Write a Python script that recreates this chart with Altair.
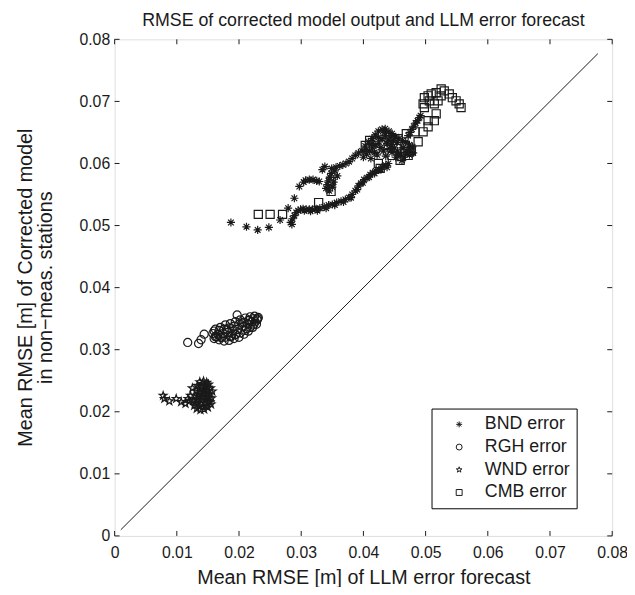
import altair as alt
import pandas as pd

SERIES = ["BND error", "RGH error", "WND error", "CMB error"]
TICKS = [0, 0.01, 0.02, 0.03, 0.04, 0.05, 0.06, 0.07, 0.08]
LINE_X = [0.001, 0.0777]
LINE_Y = [0.001, 0.0777]

BND_X = [0.0187, 0.0212, 0.0230, 0.0248, 0.0266, 0.0279, 0.0283, 0.0286, 0.0289, 0.0292, 0.0285, 0.0295, 0.0299,
         0.0303, 0.0308, 0.0313, 0.0318, 0.0324, 0.0330, 0.0337, 0.0344, 0.0350, 0.0357, 0.0364, 0.0371, 0.0377,
         0.0382, 0.0387, 0.0392, 0.0396, 0.0401, 0.0406, 0.0411, 0.0415, 0.0420, 0.0425, 0.0430, 0.0436, 0.0440,
         0.0289, 0.0297, 0.0304, 0.0307, 0.0313, 0.0319, 0.0325, 0.0329, 0.0334, 0.0338,
         0.0340, 0.0342, 0.0344, 0.0346, 0.0348, 0.0350, 0.0352, 0.0354, 0.0356, 0.0345, 0.0349, 0.0358,
         0.0362, 0.0367, 0.0372, 0.0377, 0.0382, 0.0387, 0.0392, 0.0398, 0.0403, 0.0408, 0.0414, 0.0419,
         0.0424, 0.0430, 0.0435, 0.0441, 0.0446, 0.0452, 0.0457, 0.0463, 0.0468, 0.0474, 0.0479,
         0.0400, 0.0405, 0.0410, 0.0415, 0.0420, 0.0425, 0.0430, 0.0435, 0.0440, 0.0445, 0.0450, 0.0455,
         0.0460, 0.0465, 0.0470, 0.0475, 0.0480, 0.0412, 0.0422, 0.0432, 0.0442, 0.0452, 0.0462, 0.0428,
         0.0438, 0.0448,
         0.0472, 0.0475, 0.0478, 0.0481, 0.0484, 0.0487, 0.0490, 0.0492,
         0.0305, 0.0315, 0.0326, 0.0340, 0.0354, 0.0368, 0.0380, 0.0390, 0.0399, 0.0409, 0.0418, 0.0428, 0.0438,
         0.0404, 0.0414, 0.0424, 0.0434, 0.0444, 0.0454, 0.0464, 0.0474, 0.0418, 0.0436, 0.0456, 0.0446]
BND_Y = [0.0505, 0.0498, 0.0493, 0.0497, 0.0509, 0.0528, 0.0505, 0.0511, 0.0516, 0.0521, 0.0502, 0.0524, 0.0526,
         0.0527, 0.0526, 0.0526, 0.0526, 0.0527, 0.0528, 0.0530, 0.0533, 0.0534, 0.0537, 0.0539, 0.0542, 0.0545,
         0.0550, 0.0556, 0.0564, 0.0568, 0.0574, 0.0577, 0.0582, 0.0585, 0.0588, 0.0590, 0.0594, 0.0597, 0.0600,
         0.0544, 0.0563, 0.0570, 0.0573, 0.0574, 0.0574, 0.0572, 0.0571, 0.0590, 0.0595,
         0.0560, 0.0566, 0.0572, 0.0578, 0.0584, 0.0562, 0.0570, 0.0588, 0.0594, 0.0556, 0.0592, 0.0580,
         0.0596, 0.0598, 0.0600, 0.0603, 0.0608, 0.0613, 0.0617, 0.0620, 0.0628, 0.0635, 0.0640, 0.0646,
         0.0652, 0.0655, 0.0656, 0.0652, 0.0648, 0.0643, 0.0640, 0.0637, 0.0634, 0.0630, 0.0627,
         0.0610, 0.0615, 0.0620, 0.0625, 0.0630, 0.0635, 0.0640, 0.0645, 0.0638, 0.0630, 0.0625, 0.0620,
         0.0615, 0.0610, 0.0618, 0.0622, 0.0617, 0.0608, 0.0614, 0.0620, 0.0624, 0.0610, 0.0605, 0.0626,
         0.0632, 0.0637,
         0.0645, 0.0650, 0.0655, 0.0660, 0.0665, 0.0669, 0.0674, 0.0677,
         0.0524, 0.0523, 0.0524, 0.0528, 0.0533, 0.0538, 0.0545, 0.0558, 0.0569, 0.0578, 0.0584, 0.0590, 0.0594,
         0.0622, 0.0632, 0.0642, 0.0650, 0.0644, 0.0634, 0.0626, 0.0614, 0.0618, 0.0612, 0.0614, 0.0618]

RGH_X = [0.01175, 0.0135, 0.0139, 0.0144,
         0.0160, 0.0168, 0.0176, 0.0184, 0.0192, 0.0200, 0.0208, 0.0215, 0.0222, 0.0228,
         0.0158, 0.0166, 0.0174, 0.0182, 0.0190, 0.0198, 0.0206, 0.0214, 0.0221, 0.0229,
         0.0162, 0.0170, 0.0178, 0.0186, 0.0194, 0.0202, 0.0210, 0.0218, 0.0225, 0.0231,
         0.0197, 0.0188, 0.0212, 0.0172, 0.0180, 0.0205, 0.0216, 0.0226, 0.0164, 0.0195,
         0.0162, 0.0170, 0.0178, 0.0186, 0.0194, 0.0202, 0.0210, 0.0218, 0.0224,
         0.0160, 0.0168, 0.0176, 0.0184, 0.0192, 0.0200, 0.0208, 0.0216, 0.0223, 0.0230]
RGH_Y = [0.03117, 0.0310, 0.0316, 0.0325,
         0.0318, 0.0316, 0.0314, 0.0315, 0.0318, 0.0320, 0.0325, 0.0330, 0.0336, 0.0341,
         0.0326, 0.0325, 0.0326, 0.0328, 0.0330, 0.0333, 0.0337, 0.0341, 0.0345, 0.0348,
         0.0333, 0.0336, 0.0340, 0.0342, 0.0345, 0.0348, 0.0351, 0.0353, 0.0354, 0.0352,
         0.0356, 0.0322, 0.0334, 0.0320, 0.0333, 0.0343, 0.0347, 0.0345, 0.0321, 0.0325,
         0.0321, 0.0320, 0.0320, 0.0321, 0.0324, 0.0327, 0.0331, 0.0336, 0.0341,
         0.0330, 0.0331, 0.0333, 0.0335, 0.0338, 0.0341, 0.0344, 0.0348, 0.0350, 0.0350]

WND_X = [0.0078, 0.0080, 0.0088, 0.0099, 0.0107, 0.0114, 0.0118, 0.0120, 0.0122, 0.0125,
         0.0128, 0.0132, 0.0138, 0.0144, 0.0150, 0.0155,
         0.0127, 0.0133, 0.0139, 0.0145, 0.0151, 0.0156,
         0.0129, 0.0135, 0.0141, 0.0147, 0.0153, 0.0157,
         0.0131, 0.0137, 0.0143, 0.0149, 0.0154,
         0.0133, 0.0139, 0.0145, 0.0151,
         0.0137, 0.0143, 0.0148,
         0.0130, 0.0136, 0.0142, 0.0148, 0.0153, 0.0134, 0.0140, 0.0146, 0.0152, 0.0136, 0.0142,
         0.0148, 0.0138, 0.0144, 0.0150, 0.0141, 0.0147]
WND_Y = [0.0226, 0.0221, 0.0217, 0.0221, 0.0216, 0.0213, 0.0221, 0.0217, 0.0226, 0.0238,
         0.0210, 0.0205, 0.0203, 0.0204, 0.0207, 0.0212,
         0.0218, 0.0215, 0.0213, 0.0214, 0.0218, 0.0222,
         0.0226, 0.0224, 0.0222, 0.0224, 0.0228, 0.0233,
         0.0234, 0.0232, 0.0231, 0.0234, 0.0238,
         0.0242, 0.0240, 0.0241, 0.0244,
         0.0248, 0.0249, 0.0247,
         0.0214, 0.0209, 0.0208, 0.0210, 0.0216, 0.0220, 0.0218, 0.0219, 0.0223, 0.0228, 0.0227,
         0.0229, 0.0236, 0.0236, 0.0239, 0.0245, 0.0243]

CMB_X = [0.0231, 0.0250, 0.0270, 0.0328, 0.0348, 0.0348, 0.0427, 0.0424, 0.0430, 0.0419, 0.0440, 0.0454,
         0.0446, 0.0459, 0.0472, 0.0477, 0.0469, 0.0483, 0.0456, 0.0467, 0.0475, 0.0461, 0.0488, 0.0496,
         0.0504, 0.0504, 0.0514, 0.0517, 0.0496, 0.0498, 0.0504, 0.0509, 0.0517, 0.0525, 0.0530, 0.0538,
         0.0543, 0.0549, 0.0554, 0.0557, 0.0514, 0.0520, 0.0506, 0.0525, 0.0498, 0.0403, 0.0410]
CMB_Y = [0.0518, 0.0518, 0.0518, 0.0537, 0.0555, 0.0571, 0.0592, 0.0600, 0.0648, 0.0624, 0.0629, 0.0624,
         0.0613, 0.0605, 0.0613, 0.0621, 0.0648, 0.0651, 0.0640, 0.0629, 0.0619, 0.0611, 0.0635, 0.0651,
         0.0659, 0.0669, 0.0669, 0.0680, 0.0696, 0.0706, 0.0709, 0.0712, 0.0714, 0.0720, 0.0717, 0.0712,
         0.0706, 0.0701, 0.0696, 0.0690, 0.0696, 0.0701, 0.0701, 0.0709, 0.0690, 0.0629, 0.0637]

ASTERISK = "M-1,0L1,0M0,-1L0,1M-0.7,-0.7L0.7,0.7M-0.7,0.7L0.7,-0.7"
PENTAGRAM = ("M0,-1L0.2245,-0.309L0.951,-0.309L0.3633,0.118L0.588,0.809L0,0.382"
             "L-0.588,0.809L-0.3633,0.118L-0.951,-0.309L-0.2245,-0.309Z")
SHAPES = [ASTERISK, "circle", PENTAGRAM, "square"]

rows = []
for name, xv_list, yv_list in [("BND error", BND_X, BND_Y), ("RGH error", RGH_X, RGH_Y),
                               ("WND error", WND_X, WND_Y), ("CMB error", CMB_X, CMB_Y)]:
    for xv, yv in zip(xv_list, yv_list):
        rows.append({"x": xv, "y": yv, "series": name})
pts = pd.DataFrame(rows)
ticks = pd.DataFrame({"x": TICKS, "y": TICKS})
line = pd.DataFrame({"x": LINE_X, "y": LINE_Y})

W, H = 504, 503
FONT = "Liberation Sans"
INK = "#1a1a1a"
xs = alt.Scale(domain=[0, 0.08], nice=False, zero=False)
ys = alt.Scale(domain=[0, 0.08], nice=False, zero=False)

XAXIS = alt.Axis(
    title="Mean RMSE [m] of LLM error forecast", values=TICKS, format="~g",
    ticks=False, tickSize=0, domain=False, grid=False, labelPadding=9,
    labelFontSize=16, labelFont=FONT, labelColor=INK, labelFlush=False,
    titleFontSize=20, titleFont=FONT, titleFontWeight="normal", titleColor=INK,
    titleY=42, titleBaseline="middle")
YAXIS = alt.Axis(
    title=["Mean RMSE [m] of Corrected model", "in non\u2212meas. stations"],
    values=TICKS, format="~g",
    ticks=False, tickSize=0, domain=False, grid=False, labelPadding=5,
    labelFontSize=16, labelFont=FONT, labelColor=INK, labelFlush=False,
    titleFontSize=20, titleFont=FONT, titleFontWeight="normal", titleColor=INK,
    titleX=-90, titleY=251, titleAngle=-90, titleAlign="center", titleBaseline="middle",
    titleLineHeight=20)

X = alt.X("x:Q", scale=xs, axis=XAXIS)
Y = alt.Y("y:Q", scale=ys, axis=YAXIS)

scatter = alt.Chart(pts).mark_point(filled=False, strokeWidth=1.2, size=68, opacity=1, color=INK).encode(
    x=X, y=Y,
    shape=alt.Shape("series:N", scale=alt.Scale(domain=SERIES, range=SHAPES),
                    legend=alt.Legend(title=None, orient="none", legendX=321, legendY=374,
                                      strokeColor="black", fillColor="white", padding=7,
                                      symbolOffset=12, labelOffset=17, rowPadding=5,
                                      labelFontSize=18, labelFont=FONT, labelColor=INK,
                                      symbolSize=36, symbolStrokeColor=INK, symbolStrokeWidth=1,
                                      symbolFillColor="transparent")),
)

diag = alt.Chart(line).mark_line(color=INK, strokeWidth=1).encode(x=X, y=Y)

tb = alt.Chart(ticks).mark_rule(color=INK, strokeWidth=1).encode(
    x=X, y=alt.value(H), y2=alt.value(H - 5))
tt = alt.Chart(ticks).mark_rule(color=INK, strokeWidth=1).encode(
    x=X, y=alt.value(0), y2=alt.value(5))
tl = alt.Chart(ticks).mark_rule(color=INK, strokeWidth=1).encode(
    y=Y, x=alt.value(0), x2=alt.value(5))
tr = alt.Chart(ticks).mark_rule(color=INK, strokeWidth=1).encode(
    y=Y, x=alt.value(W), x2=alt.value(W - 5))

chart = alt.layer(scatter, diag, tb, tt, tl, tr).properties(
    width=W, height=H,
    title=alt.TitleParams("RMSE of corrected model output and LLM error forecast",
                          fontSize=18, font=FONT, fontWeight="normal", color=INK,
                          anchor="middle", offset=0, baseline="alphabetic", dy=12),
    autosize=alt.AutoSizeParams(type="none"),
    padding={"left": 108, "top": 28, "right": 15, "bottom": 48},
).configure_view(stroke="black", strokeWidth=1).configure(background="white")

chart.save("out.html", embed_options={"renderer": "svg", "actions": False})
